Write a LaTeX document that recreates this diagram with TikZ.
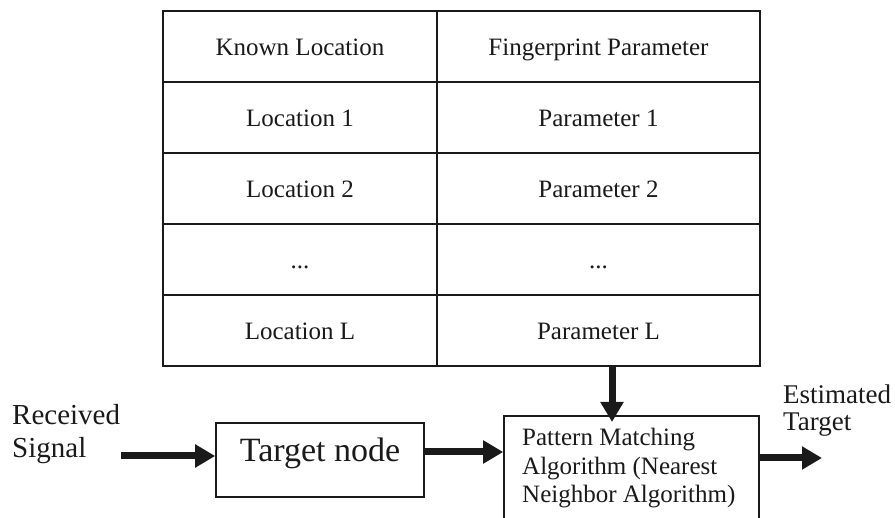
\documentclass[tikz,border=0pt]{standalone}
\usepackage{fontspec}
\setmainfont{Liberation Serif}
\usetikzlibrary{arrows.meta}
\definecolor{ink}{HTML}{1A1A1A}
\newcommand{\stacklines}[1]{\vtop{\halign{##\hfil\cr#1\crcr}}}
\begin{document}
\begin{tikzpicture}[x=1pt,y=-1pt,
  cell/.style={draw=ink,line width=1.6pt,minimum height=71pt,inner sep=0pt,
    font=\fontsize{25}{28}\selectfont,text height=18pt,text depth=0pt,text=ink},
  colA/.style={cell,minimum width=274pt},
  colB/.style={cell,minimum width=323pt},
  box/.style={draw=ink,line width=1.6pt,inner sep=0pt,text=ink},
  fat/.style={draw=ink,line width=7pt,-{Triangle[length=20pt,width=22pt]}},
  lbl/.style={inner sep=0pt,text=ink,anchor=base west}
]
\useasboundingbox (0,0) rectangle (895,518);
\fill[white] (0,0) rectangle (895,518);

% table
\node[colA] (a1) at (300,46.5)  {Known Location};
\node[colB] (b1) at (598.5,46.5) {Fingerprint Parameter};
\node[colA] (a2) at (300,117.5)  {Location 1};
\node[colB] (b2) at (598.5,117.5) {Parameter 1};
\node[colA] (a3) at (300,188.5)  {Location 2};
\node[colB] (b3) at (598.5,188.5) {Parameter 2};
\node[colA] (a4) at (300,259.5)  {...};
\node[colB] (b4) at (598.5,259.5) {...};
\node[colA] (a5) at (300,330.5)  {Location L};
\node[colB] (b5) at (598.5,330.5) {Parameter L};

% target node
\node[box,minimum width=208pt,minimum height=74pt,
  font=\fontsize{34}{38}\selectfont,text height=24pt,text depth=20.6pt] (tn) at (320,460) {Target node};

% pattern matching box (bottom edge lies below the picture)
\begin{scope}
\clip (0,0) rectangle (895,518);
\node[box,minimum width=255pt,minimum height=120pt] (pm) at (631.5,476) {};
\end{scope}
\node[lbl,font=\fontsize{25}{28.5}\selectfont] (pmt) at (522,446)
  {\stacklines{Pattern Matching\cr Algorithm (Nearest\cr Neighbor Algorithm)}};

% side labels
\node[lbl,font=\fontsize{29}{33}\selectfont] (rs) at (12,425)
  {\stacklines{Received\cr Signal}};
\node[lbl,font=\fontsize{27}{27.5}\selectfont] (et) at (783,403.3)
  {\stacklines{Estimated\cr Target}};

% arrows
\coordinate (rsStart) at (121,456);
\draw[fat] (rsStart) -- (tn.west |- rsStart);
\coordinate (mid) at (470,452);
\draw[fat] (tn.east |- mid) -- (pm.west |- mid);
\coordinate (dtip) at (612,422);
\draw[fat] (dtip |- b5.south) -- (dtip);
\coordinate (etip) at (822,458);
\draw[fat] (pm.east |- etip) -- (etip);
\end{tikzpicture}
\end{document}
